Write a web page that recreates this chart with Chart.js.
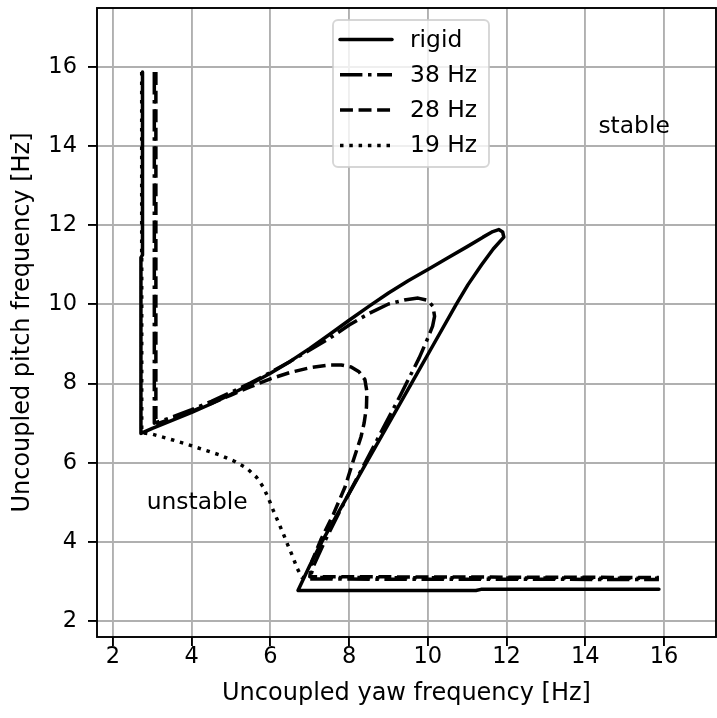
<!DOCTYPE html>
<html><head><meta charset="utf-8">
<script src="https://cdn.jsdelivr.net/npm/chart.js@4.4.0/dist/chart.umd.min.js"></script>
<style>html,body{margin:0;padding:0;background:#fff}canvas{display:block}</style>
</head><body>
<canvas id="c" width="717" height="718"></canvas>
<script>
const xTicks = [2, 4, 6, 8, 10, 12, 14, 16];
const yTicks = [2, 4, 6, 8, 10, 12, 14, 16];
const seriesLabels = ['rigid', '38 Hz', '28 Hz', '19 Hz'];
const xTitle = 'Uncoupled yaw frequency [Hz]';
const yTitle = 'Uncoupled pitch frequency [Hz]';
const regionLabels = ['stable', 'unstable'];
const regionX = [15.24, 4.14];
const regionY = [14.48, 4.99];

const rigidX = [2.75, 2.75, 2.71, 2.71, 3.0, 3.5, 4.0, 4.5, 5.0, 5.5, 6.0, 6.5, 7.0, 7.5, 8.0, 8.5, 9.0, 9.5, 10.0, 10.5, 11.0, 11.4, 11.65, 11.8, 11.9, 11.93,
  11.66, 11.365, 11.02, 10.72, 10.15, 9.58, 9.01, 8.44, 7.87, 7.305, 7.0, 6.7, 11.22, 11.35, 15.87];
const rigidY = [15.87, 11.25, 11.18, 6.74, 6.87, 7.07, 7.27, 7.49, 7.73, 7.99, 8.26, 8.56, 8.89, 9.24, 9.6, 9.95, 10.29, 10.6, 10.88, 11.17, 11.46, 11.7, 11.84, 11.89, 11.83, 11.7,
  11.4, 11.0, 10.5, 10.0, 9.0, 8.0, 7.0, 6.0, 5.0, 4.0, 3.4, 2.77, 2.77, 2.8, 2.8];

const hz38X = [3.05, 3.05, 3.5, 4.0, 4.5, 5.0, 5.5, 6.0, 6.5, 7.0, 7.5, 8.0, 8.5, 9.0, 9.4, 9.75, 10.0, 10.13, 10.17, 10.12, 10.0, 9.78, 9.3, 8.8, 8.3, 7.8, 7.35, 7.1, 7.0, 15.87];
const hz38Y = [15.87, 7.0, 7.15, 7.34, 7.55, 7.78, 8.02, 8.28, 8.56, 8.85, 9.14, 9.48, 9.77, 10.01, 10.11, 10.16, 10.1, 9.95, 9.7, 9.45, 9.15, 8.65, 7.7, 6.75, 5.8, 4.85, 3.95, 3.4, 3.06, 3.05];

const hz28X = [3.09, 3.09, 3.5, 4.0, 4.5, 5.0, 5.5, 6.0, 6.5, 7.0, 7.5, 7.8, 8.05, 8.25, 8.4, 8.45, 8.44, 8.38, 8.3, 8.12, 7.9, 7.6, 7.28, 7.05, 7.0, 15.87];
const hz28Y = [15.87, 6.97, 7.12, 7.3, 7.5, 7.71, 7.92, 8.12, 8.28, 8.4, 8.47, 8.47, 8.42, 8.3, 8.1, 7.8, 7.4, 7.0, 6.65, 6.1, 5.4, 4.7, 4.05, 3.5, 3.12, 3.1];

const hz19X = [2.73, 2.73, 3.0, 3.5, 3.9, 4.3, 4.7, 5.1, 5.4, 5.65, 5.82, 5.95, 6.07, 6.2, 6.32, 6.45, 6.57, 6.68, 6.8, 15.87];
const hz19Y = [15.87, 6.76, 6.72, 6.58, 6.46, 6.33, 6.2, 6.03, 5.86, 5.63, 5.38, 5.1, 4.8, 4.5, 4.22, 3.9, 3.62, 3.33, 3.1, 3.08];

const LW = 3.5;
const FONT = 'DejaVu Sans';
const toPts = (xs, ys) => xs.map((x, i) => ({x: x, y: ys[i]}));

const mk = (label, xs, ys, dash, order) => ({
  label: label, data: toPts(xs, ys), showLine: true, pointRadius: 0, pointHoverRadius: 0,
  borderColor: '#000', backgroundColor: '#000', borderWidth: LW, borderDash: dash,
  borderCapStyle: dash.length ? 'butt' : 'round', borderJoinStyle: 'round', tension: 0, fill: false, order: order
});

const datasets = [
  mk(seriesLabels[0], rigidX, rigidY, [], 4),
  mk(seriesLabels[1], hz38X, hz38Y, [22.4, 5.6, 3.5, 5.6], 3),
  mk(seriesLabels[2], hz28X, hz28Y, [12.95, 5.6], 2),
  mk(seriesLabels[3], hz19X, hz19Y, [3.5, 5.8], 1)
];

const framePlugin = {
  id: 'frame',
  afterDatasetsDraw(chart) {
    const {ctx, chartArea: a} = chart;
    ctx.save();
    ctx.strokeStyle = '#000';
    ctx.lineWidth = 1.9;
    ctx.strokeRect(a.left, a.top, a.right - a.left, a.bottom - a.top);
    ctx.fillStyle = '#000';
    ctx.font = '23.4px "' + FONT + '"';
    ctx.textAlign = 'center';
    ctx.textBaseline = 'middle';
    const xs = chart.scales.x, ys = chart.scales.y;
    regionLabels.forEach((t, i) => {
      ctx.fillText(t, xs.getPixelForValue(regionX[i]), ys.getPixelForValue(regionY[i]));
    });
    ctx.restore();
  },
  afterDraw(chart) {
    const {ctx} = chart;
    ctx.save();
    const bx = 333, by = 20, bw = 156, bh = 147, r = 5;
    ctx.beginPath();
    ctx.moveTo(bx + r, by);
    ctx.arcTo(bx + bw, by, bx + bw, by + bh, r);
    ctx.arcTo(bx + bw, by + bh, bx, by + bh, r);
    ctx.arcTo(bx, by + bh, bx, by, r);
    ctx.arcTo(bx, by, bx + bw, by, r);
    ctx.closePath();
    ctx.fillStyle = 'rgba(255,255,255,0.8)';
    ctx.fill();
    ctx.strokeStyle = 'rgba(204,204,204,0.8)';
    ctx.lineWidth = 1.9;
    ctx.stroke();
    ctx.font = '23.4px "' + FONT + '"';
    ctx.textAlign = 'left';
    ctx.textBaseline = 'middle';
    chart.data.datasets.forEach((d, i) => {
      const cy = 39.5 + i * 35.3;
      ctx.beginPath();
      ctx.setLineDash(d.borderDash);
      ctx.lineCap = d.borderCapStyle;
      ctx.strokeStyle = '#000';
      ctx.lineWidth = LW;
      ctx.moveTo(340, cy);
      ctx.lineTo(392, cy);
      ctx.stroke();
      ctx.setLineDash([]);
      ctx.fillStyle = '#000';
      ctx.fillText(d.label, 410, cy + 1);
    });
    ctx.restore();
  }
};

new Chart(document.getElementById('c'), {
  type: 'scatter',
  data: {datasets: datasets},
  plugins: [framePlugin],
  options: {
    responsive: false, animation: false, devicePixelRatio: 1, events: [],
    layout: {padding: {top: 8, right: 1, left: 0, bottom: 0}},
    plugins: {legend: {display: false}, tooltip: {enabled: false}},
    scales: {
      x: {
        type: 'linear', position: 'bottom', min: 1.594, max: 17.32,
        afterBuildTicks: s => { s.ticks = xTicks.map(v => ({value: v})); },
        afterFit: s => { s.height = 81; s.paddingLeft = 0; s.paddingRight = 0; },
        ticks: {autoSkip: false, maxRotation: 0, color: '#000', padding: -2, font: {family: FONT, size: 22.5, lineHeight: 1.2}, callback: v => String(v)},
        grid: {color: '#b0b0b0', lineWidth: 1.9, tickColor: '#000', tickWidth: 1.9, tickLength: 9, drawTicks: true},
        border: {display: false},
        title: {display: true, text: xTitle, color: '#000', font: {family: FONT, size: 24, lineHeight: 1.2}, padding: {top: 0, bottom: 10}}
      },
      y: {
        type: 'linear', position: 'left', min: 1.596, max: 17.49,
        afterBuildTicks: s => { s.ticks = yTicks.map(v => ({value: v})); },
        afterFit: s => { s.width = 97; s.paddingTop = 0; s.paddingBottom = 0; },
        ticks: {autoSkip: false, color: '#000', padding: 11, font: {family: FONT, size: 22.5, lineHeight: 1.2}, callback: v => String(v)},
        grid: {color: '#b0b0b0', lineWidth: 1.9, tickColor: '#000', tickWidth: 1.9, tickLength: 9, drawTicks: true},
        border: {display: false},
        title: {display: true, text: yTitle, color: '#000', font: {family: FONT, size: 24, lineHeight: 1.2}, padding: {top: 8, bottom: 0}}
      }
    }
  }
});
</script>
</body></html>
